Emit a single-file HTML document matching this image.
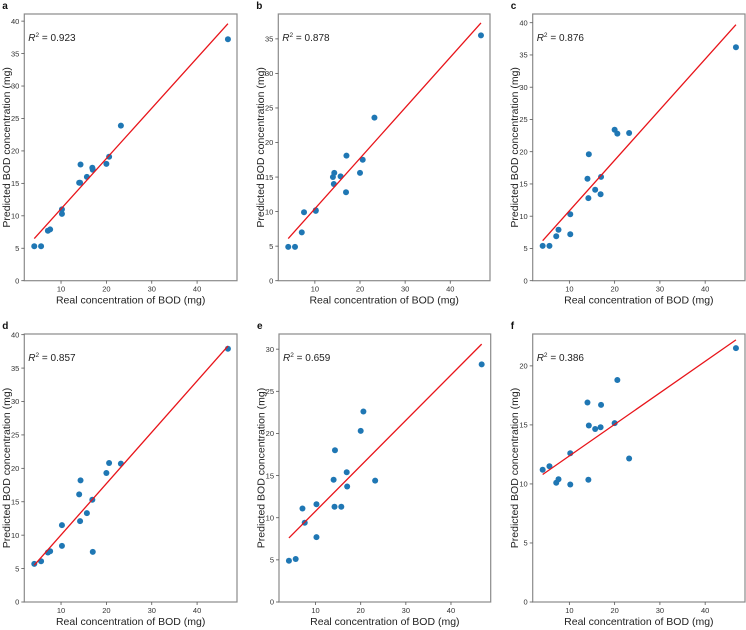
<!DOCTYPE html>
<html><head><meta charset="utf-8"><style>
html,body{margin:0;padding:0;background:#fff;}
svg{display:block;font-family:"Liberation Sans",sans-serif;}
</style></head><body>
<svg id="fig" width="746" height="630" viewBox="0 0 746 630"></svg>
<script>
const realBOD = [4.1,5.6,7.1,7.6,10.2,10.2,14.0,14.2,14.3,15.7,16.9,17.0,20.0,20.6,23.2,46.8];
const predA = [5.3,5.3,7.7,7.9,11.0,10.3,15.1,15.1,17.9,16.0,17.4,17.1,18.0,19.1,23.9,37.2];
const predB = [4.9,4.9,7.0,9.9,10.1,10.2,15.0,14.0,15.6,15.1,12.8,18.1,15.6,17.5,23.6,35.5];
const predC = [5.4,5.4,6.9,7.9,10.3,7.2,15.8,12.8,19.6,14.1,13.4,16.1,23.4,22.8,22.9,36.2];
const predD = [5.7,6.1,7.4,7.6,11.5,8.4,16.1,12.1,18.2,13.3,15.3,7.5,19.3,20.8,20.7,37.9];
const predE = [4.9,5.1,11.1,9.4,11.6,7.7,14.5,11.3,18.0,11.3,15.4,13.7,20.3,22.6,14.4,28.2];
const predF = [11.2,11.5,10.1,10.4,12.6,9.95,16.9,10.35,14.95,14.65,14.8,16.7,15.15,18.8,12.15,21.5];
const fitA = [6.5,39.6], fitB = [6.1,37.3], fitC = [6.2,39.7], fitD = [5.5,38.3], fitE = [7.6,30.6], fitF = [10.8,22.2];
const r2Labels = ["0.923","0.878","0.876","0.857","0.659","0.386"];
const panelLetters = ["a","b","c","d","e","f"];
const xTicks = [10,20,30,40];
const yTicksA = [0,5,10,15,20,25,30,35,40];
const yTicksB = [0,5,10,15,20,25,30,35];
const yTicksE = [0,5,10,15,20,25,30];
const yTicksF = [0,5,10,15,20];

const NS="http://www.w3.org/2000/svg";
const svg=document.getElementById('fig');
function mk(tag,attrs,parent){const e=document.createElementNS(NS,tag);for(const k in attrs)e.setAttribute(k,attrs[k]);(parent||svg).appendChild(e);return e;}

const panels=[
 {box:[24.3,14,237,280.7],ymax:41.1,yt:yTicksA,pred:predA,fit:fitA},
 {box:[278.3,14,490,280.7],ymax:38.6,yt:yTicksB,pred:predB,fit:fitB},
 {box:[532.7,14,745,280.7],ymax:41.35,yt:yTicksA,pred:predC,fit:fitC},
 {box:[24.3,334,237,602],ymax:40.1,yt:yTicksA,pred:predD,fit:fitD},
 {box:[279,334,490.7,602],ymax:31.8,yt:yTicksE,pred:predE,fit:fitE},
 {box:[532.7,334,745,602],ymax:22.7,yt:yTicksF,pred:predF,fit:fitF}
];
const XMIN=1.9,XMAX=48.8;
panels.forEach((p,i)=>{
  const [L,T,R,B]=p.box;
  const g=mk('g',{});
  
  
  const sx=v=>L+(v-XMIN)/(XMAX-XMIN)*(R-L);
  const sy=v=>B-(v/p.ymax)*(B-T);
  const letter=mk('text',{x:L-22,y:T-5,'font-size':10,'font-weight':'bold',fill:'#111'},g);
  letter.textContent=panelLetters[i];
  
  
  const frame=mk('rect',{x:L,y:T,width:R-L,height:B-T,fill:'none',stroke:'#8a8a8a','stroke-width':1.2},g);
  
  
  xTicks.forEach(v=>{
    mk('line',{x1:sx(v),x2:sx(v),y1:B,y2:B+3,stroke:'#555','stroke-width':0.8},g);
    const t=mk('text',{x:sx(v),y:B+11,'font-size':7.5,'text-anchor':'middle',fill:'#333'},g);
    t.textContent=v;
    
    
  });
  p.yt.forEach(v=>{
    mk('line',{x1:L-3,x2:L,y1:sy(v),y2:sy(v),stroke:'#555','stroke-width':0.8},g);
    const t=mk('text',{x:L-5,y:sy(v)+2.7,'font-size':7.5,'text-anchor':'end',fill:'#333'},g);
    t.textContent=v;
    
    
  });
  const xl=mk('text',{x:(L+R)/2,y:B+23,'font-size':10.5,'text-anchor':'middle',fill:'#222'},g);
  xl.textContent='Real concentration of BOD (mg)';
  
  
  const yl=mk('text',{x:0,y:0,'font-size':10.5,'text-anchor':'middle',fill:'#222',transform:`translate(${L-14.5},${(T+B)/2}) rotate(-90)`},g);
  yl.textContent='Predicted BOD concentration (mg)';
  
  
  realBOD.forEach((x,j)=>{
    const c=mk('circle',{cx:sx(x),cy:sy(p.pred[j]),r:3,fill:'#1f77b4'},g);
    
    
  });
  const ln=mk('line',{x1:sx(realBOD[0]),y1:sy(p.fit[0]),x2:sx(realBOD[realBOD.length-1]),y2:sy(p.fit[1]),stroke:'#e8141a','stroke-width':1.3},g);
  
  
  const r=mk('text',{x:L+4,y:T+27,'font-size':10,fill:'#222'},g);
  r.innerHTML='<tspan font-style="italic">R</tspan><tspan dy="-4" font-size="6.5">2</tspan><tspan dy="4"> = '+r2Labels[i]+'</tspan>';
  
  
});
</script>
</body></html>
